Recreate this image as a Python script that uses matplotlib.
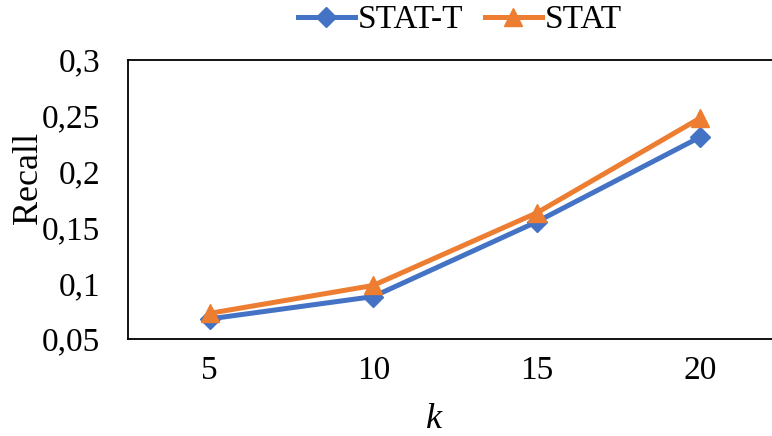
import matplotlib.pyplot as plt

plt.rcParams["font.family"] = ["Liberation Serif", "DejaVu Serif"]

k_values = ["5", "10", "15", "20"]
stat_t = [0.068, 0.088, 0.155, 0.231]
stat = [0.073, 0.098, 0.163, 0.248]
y_ticks = [0.05, 0.1, 0.15, 0.2, 0.25, 0.3]
y_labels = ["0,05", "0,1", "0,15", "0,2", "0,25", "0,3"]

fig = plt.figure(figsize=(7.72, 4.36), dpi=100)
# plot area runs slightly past the right edge of the picture
ax = fig.add_axes([128 / 772, 1 - 339 / 436, 654 / 772, 279 / 436])

x = range(len(k_values))
ax.plot(x, stat_t, color="#4472C4", lw=3.6, marker="D", ms=10,
        label="STAT-T", clip_on=False)
ax.plot(x, stat, color="#ED7D31", lw=3.6, marker="^", ms=13,
        label="STAT", clip_on=False)

ax.set_xlim(-0.5, 3.5)
ax.set_ylim(0.05, 0.3)
ax.set_xticks(list(x))
ax.set_xticklabels(k_values)
ax.set_yticks(y_ticks)
ax.set_yticklabels(y_labels)
ax.tick_params(length=0, labelsize=24)
ax.tick_params(axis="y", pad=20)
ax.tick_params(axis="x", pad=12)

for s in ax.spines.values():
    s.set_linewidth(1.3)
    s.set_color("black")

ax.set_ylabel("Recall", fontsize=26, va="center", ha="center")
ax.yaxis.set_label_coords((28 - 128) / 654, (339 - 178) / 279)
ax.set_xlabel("k", fontsize=26, style="italic", va="center", ha="center")
ax.xaxis.set_label_coords((434 - 128) / 654, (339 - 420) / 279)

fig.legend(loc="center", bbox_to_anchor=(460 / 772, 1 - 20 / 436), ncol=2,
           frameon=False, fontsize=24, handlelength=1.7, handletextpad=0.1,
           columnspacing=0.65)

fig.savefig("out.png", dpi=100)
